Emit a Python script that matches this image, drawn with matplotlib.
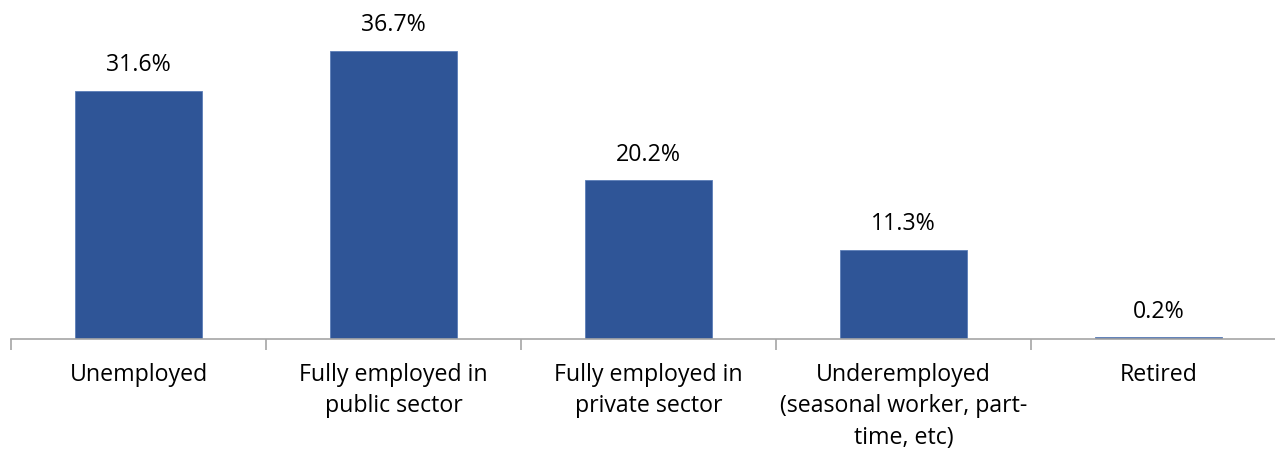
import matplotlib
matplotlib.use("Agg")
from matplotlib import pyplot as plt

categories = ["Unemployed", "Fully employed in\npublic sector", "Fully employed in\nprivate sector",
              "Underemployed\n(seasonal worker, part-\ntime, etc)", "Retired"]
values = [31.6, 36.7, 20.2, 11.3, 0.2]
value_labels = ["31.6%", "36.7%", "20.2%", "11.3%", "0.2%"]

plt.rcParams["font.family"] = ["Open Sans", "DejaVu Sans"]

fig = plt.figure(figsize=(12.75, 4.49), dpi=100)
ax = fig.add_axes([11 / 1275, 110 / 449, 1275 / 1275, 314 / 449])

x = range(len(categories))
ax.bar(x, values, width=0.5, color="#2F5597", edgecolor="#5B7DB8", linewidth=0.6)
for xi, v, lab in zip(x, values, value_labels):
    ax.annotate(lab, (xi, v), xytext=(0, 10), textcoords="offset points",
                ha="center", va="bottom", fontsize=16.7)

ax.set_xlim(-0.5, len(categories) - 0.5)
ax.set_ylim(0, 40)
for s in ["top", "right", "left"]:
    ax.spines[s].set_visible(False)
ax.spines["bottom"].set_color("#A6A6A6")
ax.spines["bottom"].set_linewidth(1.2)
ax.set_yticks([])

ax.set_xticks([i - 0.5 for i in range(len(categories) + 1)])
ax.set_xticklabels([])
ax.tick_params(axis="x", which="major", length=8, color="#A6A6A6", width=1.2)
ax.set_xticks(list(x), minor=True)
ax.set_xticklabels(categories, minor=True, fontsize=16.7, linespacing=1.42, va="top")
ax.tick_params(axis="x", which="minor", length=0, pad=17)

fig.savefig("out.png", dpi=100)
